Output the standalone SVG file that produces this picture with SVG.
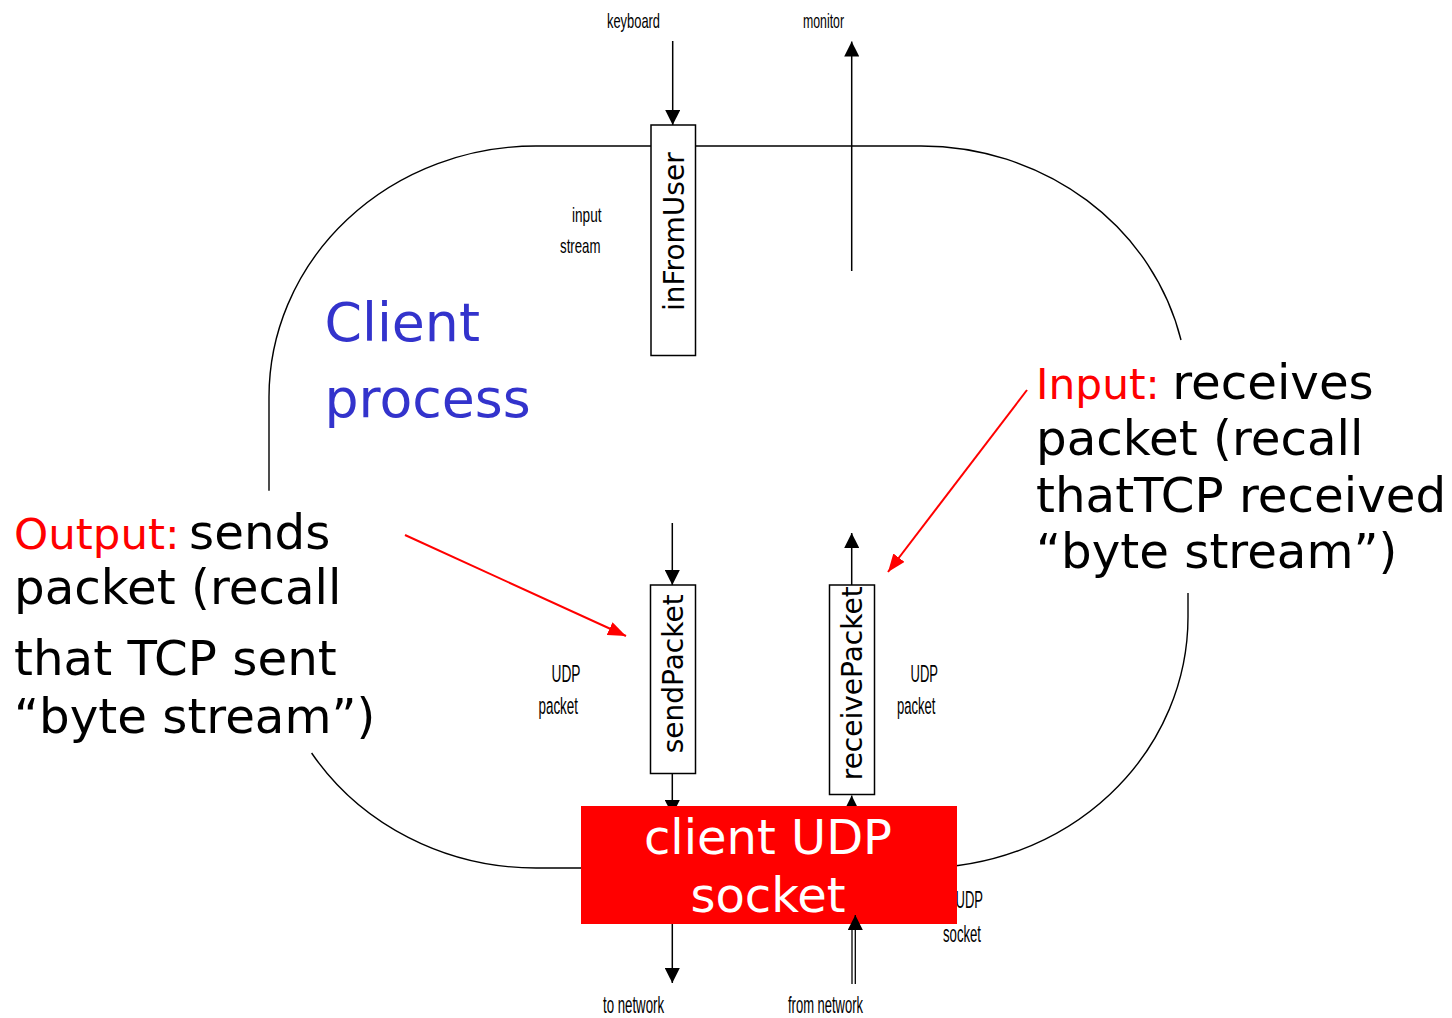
<svg xmlns="http://www.w3.org/2000/svg" width="1452" height="1018" viewBox="0 0 1452 1018">
<style>
.bg{fill:#ffffff}
.boundary{fill:none;stroke:#000;stroke-width:1.4}
.box{fill:#ffffff;stroke:#000;stroke-width:1.5}
.boxtxt{font-family:"DejaVu Sans",Verdana,sans-serif;font-size:28px;fill:#000}
.big{font-family:"DejaVu Sans",Verdana,sans-serif;font-size:48.3px;fill:#000}
.red{fill:#ff0000;font-size:43.5px}
.blue{font-family:"DejaVu Sans",Verdana,sans-serif;font-size:53.7px;fill:#3333cc}
.sock{fill:#ff0000}
.socktxt{font-family:"DejaVu Sans",Verdana,sans-serif;font-size:48px;fill:#ffffff;text-anchor:middle}
.sm{font-family:"Liberation Sans",Arial,sans-serif;font-size:21px;fill:#000}
.md{font-family:"Liberation Sans",Arial,sans-serif;font-size:24.5px;fill:#000}
.conn{stroke:#000;stroke-width:1.5;fill:none}
.rconn{stroke:#ff0000;stroke-width:2;fill:none}
</style>
<defs>
<marker id="ah" viewBox="0 0 15 15" refX="15" refY="7.5" markerWidth="15" markerHeight="15" markerUnits="userSpaceOnUse" orient="auto"><path d="M0,0 L15,7.5 L0,15 z" fill="#000"/></marker>
<marker id="rah" viewBox="0 0 18 14" refX="18" refY="7" markerWidth="18" markerHeight="14" markerUnits="userSpaceOnUse" orient="auto"><path d="M0,0 L18,7 L0,14 z" fill="#ff0000"/></marker>
<clipPath id="aboveSocket"><rect x="0" y="0" width="1452" height="806"/></clipPath>
</defs>
<rect class="bg" x="0" y="0" width="1452" height="1018"/>

<g id="client-process">
<path class="boundary" d="M269,490.7 V397 A267,251 0 0 1 536,146 H921 A267,251 0 0 1 1181,340"/>
<path class="boundary" d="M1188,593 V617 A267,251 0 0 1 921,868 H536 A267,251 0 0 1 311.6,753"/>
<text class="blue" x="324.5" y="341">Client</text>
<text class="blue" x="324.5" y="417">process</text>
</g>

<g id="inFromUser">
<rect class="box" x="651" y="125" width="44.5" height="230.5"/>
<text class="boxtxt" text-anchor="middle" transform="translate(683.5,231.7) rotate(-90)">inFromUser</text>
</g>

<g id="sendPacket">
<rect class="box" x="650.5" y="585" width="45" height="188.5"/>
<text class="boxtxt" text-anchor="middle" transform="translate(682.5,673.8) rotate(-90)">sendPacket</text>
</g>

<g id="receivePacket">
<rect class="box" x="829.5" y="585" width="45" height="209.5"/>
<text class="boxtxt" text-anchor="middle" transform="translate(862,683.3) rotate(-90)">receivePacket</text>
</g>

<g id="udp-socket-label">
<text class="md" x="955.5" y="908" textLength="27.5" lengthAdjust="spacingAndGlyphs">UDP</text>
<text class="md" x="943" y="942" textLength="38" lengthAdjust="spacingAndGlyphs">socket</text>
</g>

<g id="client-udp-socket">
<rect class="sock" x="581" y="806" width="376" height="118"/>
<text class="socktxt" x="768" y="854">client UDP</text>
<text class="socktxt" x="768" y="912">socket</text>
</g>

<g id="output-note">
<text class="big" x="14" y="549"><tspan class="red">Output:</tspan><tspan dx="-6"> sends</tspan></text>
<text class="big" x="14" y="604">packet (recall</text>
<text class="big" x="14" y="675">that TCP sent</text>
<text class="big" x="14" y="733">“byte stream”)</text>
</g>

<g id="input-note">
<text class="big" x="1036" y="399"><tspan class="red" style="font-size:42.3px">Input:</tspan><tspan dx="-3"> receives</tspan></text>
<text class="big" x="1036" y="455">packet (recall</text>
<text class="big" x="1036" y="512">thatTCP received</text>
<text class="big" x="1036" y="568">“byte stream”)</text>
</g>

<g id="labels">
<text id="lbl-keyboard" class="sm" x="607" y="28" textLength="53" lengthAdjust="spacingAndGlyphs">keyboard</text>
<text id="lbl-monitor" class="sm" x="803" y="28" textLength="41" lengthAdjust="spacingAndGlyphs">monitor</text>
<text id="lbl-input" class="sm" x="572" y="222" textLength="29.5" lengthAdjust="spacingAndGlyphs">input</text>
<text id="lbl-stream" class="sm" x="560" y="253" textLength="40.5" lengthAdjust="spacingAndGlyphs">stream</text>
<text id="lbl-udp-l" class="md" x="551.5" y="682" textLength="29" lengthAdjust="spacingAndGlyphs">UDP</text>
<text id="lbl-packet-l" class="md" x="538.5" y="714" textLength="39.5" lengthAdjust="spacingAndGlyphs">packet</text>
<text id="lbl-udp-r" class="md" x="910.5" y="682" textLength="27.5" lengthAdjust="spacingAndGlyphs">UDP</text>
<text id="lbl-packet-r" class="md" x="897" y="714" textLength="38.5" lengthAdjust="spacingAndGlyphs">packet</text>
<text id="lbl-to-network" class="md" x="603" y="1013" textLength="61" lengthAdjust="spacingAndGlyphs">to network</text>
<text id="lbl-from-network" class="md" x="788" y="1013" textLength="75" lengthAdjust="spacingAndGlyphs">from network</text>
</g>

<g id="connectors">
<line class="conn" x1="672.7" y1="41" x2="672.7" y2="125" marker-end="url(#ah)"/>
<line class="conn" x1="851.7" y1="271" x2="851.7" y2="41.5" marker-end="url(#ah)"/>
<line class="conn" x1="672.3" y1="523" x2="672.3" y2="585" marker-end="url(#ah)"/>
<line class="conn" x1="672.3" y1="773.5" x2="672.3" y2="815" marker-end="url(#ah)" clip-path="url(#aboveSocket)"/>
<line class="conn" x1="851.7" y1="585" x2="851.7" y2="533" marker-end="url(#ah)"/>
<line class="conn" x1="851.7" y1="830" x2="851.7" y2="795.5" marker-end="url(#ah)" clip-path="url(#aboveSocket)"/>
<line class="conn" x1="672.3" y1="924" x2="672.3" y2="983" marker-end="url(#ah)"/>
<line class="conn" x1="852" y1="984" x2="852" y2="930" style="stroke-width:1.3"/>
<line class="conn" x1="855.3" y1="984" x2="855.3" y2="915" marker-end="url(#ah)" style="stroke-width:1.3"/>
<line class="rconn" x1="405" y1="535" x2="626" y2="636" marker-end="url(#rah)"/>
<line class="rconn" x1="1027" y1="390" x2="888" y2="572" marker-end="url(#rah)"/>
</g>
</svg>
